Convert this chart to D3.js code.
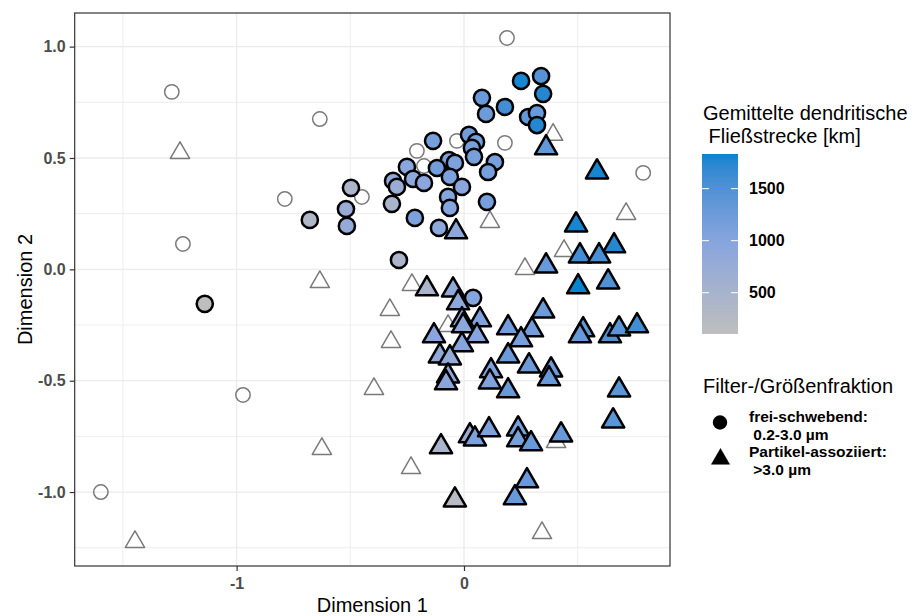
<!DOCTYPE html>
<html>
<head>
<meta charset="utf-8">
<script src="https://cdn.jsdelivr.net/npm/d3@7"></script>
<style>
  body { margin: 0; background: #fff; }
  text { font-family: "Liberation Sans", Arial, Helvetica, sans-serif; }
</style>
</head>
<body>
<svg id="chart" width="917" height="616"></svg>
<script>
// NMDS scores per sample, split by filter fraction.
// Samples without a flow-distance value (drawn as open outlines).
const freeNaDim1 = [0.189, -1.285, -0.634, -1.236, -0.788, -0.972, -1.597, 0.788, -0.449, -0.207, -0.176, -0.031, 0.180];
const freeNaDim2 = [1.039, 0.797, 0.675, 0.114, 0.316, -0.564, -1.000, 0.433, 0.325, 0.532, 0.464, 0.577, 0.568];

const partNaDim1 = [-1.249, -0.634, -0.229, -0.326, -0.321, -0.396, -0.625, -0.233, -1.447, 0.114, 0.392, 0.268, 0.440, 0.713, -0.070, 0.405, 0.343];
const partNaDim2 = [0.523, -0.057, -0.070, -0.182, -0.326, -0.537, -0.806, -0.892, -1.224, 0.213, 0.604, 0.002, 0.083, 0.249, -0.254, -0.775, -1.184];

// Free-living fraction (0.2-3.0 µm)
const freeDim1 = [0.251, 0.339, 0.348, 0.079, 0.097, 0.180, 0.282, 0.321, 0.321, -0.136,
                  0.022, 0.053, 0.035, 0.044, 0.136, 0.106, -0.066, -0.119, -0.040, -0.062,
                  -0.009, -0.070, -0.062, -0.251, -0.312, -0.295, -0.224, -0.176, -0.497, -0.519,
                  -0.515, -0.678, -0.317, -0.216, -0.110, 0.101, -0.286, -1.140, 0.040];
const freeDim2 = [0.846, 0.868, 0.788, 0.770, 0.698, 0.729, 0.684, 0.702, 0.648, 0.577,
                  0.604, 0.572, 0.545, 0.505, 0.482, 0.437, 0.491, 0.455, 0.478, 0.415,
                  0.370, 0.325, 0.276, 0.460, 0.397, 0.370, 0.406, 0.388, 0.366, 0.271,
                  0.195, 0.222, 0.294, 0.231, 0.186, 0.303, 0.042, -0.155, -0.128];
const freeDist = [1800, 1450, 1750, 1300, 1250, 1600, 1350, 1300, 1750, 1150,
                  1200, 1150, 1150, 1150, 1150, 1150, 1100, 1200, 1100, 1100,
                  950, 1000, 1000, 950, 850, 700, 900, 950, 400, 750,
                  800, 350, 450, 1100, 900, 1150, 450, 103, 1000];

// Particle-associated fraction (>3.0 µm)
const partDim1 = [0.361, 0.585, 0.493, -0.035, 0.660, 0.510, 0.594, 0.361, 0.502, 0.634,
                  -0.163, -0.048, -0.026, 0.070, -0.009, -0.004, 0.057, -0.132, 0.348, 0.194,
                  0.299, 0.251, 0.524, 0.510, 0.642, 0.682, 0.761, -0.009, -0.106, -0.062,
                  0.194, 0.286, 0.383, 0.374, 0.119, 0.114, 0.194, -0.070, -0.079, 0.682,
                  0.656, -0.101, 0.026, 0.048, 0.110, 0.238, 0.238, 0.295, 0.427, 0.277,
                  0.224, -0.040];
const partDim2 = [0.545, 0.437, 0.199, 0.168, 0.105, 0.060, 0.060, 0.015, -0.079, -0.057,
                  -0.088, -0.093, -0.151, -0.227, -0.227, -0.254, -0.299, -0.299, -0.187, -0.263,
                  -0.272, -0.317, -0.272, -0.299, -0.299, -0.268, -0.254, -0.339, -0.389, -0.398,
                  -0.389, -0.434, -0.452, -0.492, -0.456, -0.506, -0.546, -0.479, -0.510, -0.542,
                  -0.681, -0.797, -0.748, -0.762, -0.721, -0.717, -0.766, -0.784, -0.744, -0.950,
                  -1.026, -1.036];
const partDist = [1350, 1800, 1800, 900, 1750, 1600, 1550, 1300, 1833, 1500,
                  450, 850, 900, 1050, 950, 900, 1000, 950, 1250, 1200,
                  1200, 1150, 1350, 1300, 1500, 1400, 1600, 1000, 850, 800,
                  1250, 1250, 1250, 1300, 1100, 1050, 1300, 900, 950, 1400,
                  1400, 450, 750, 1100, 1100, 1150, 1150, 1300, 1300, 1300,
                  1300, 200];

const xMajor = [-1, 0];
const xMinor = [-1.5, -0.5, 0.5];
const yMajor = [-1.0, -0.5, 0.0, 0.5, 1.0];
const yMinor = [-1.25, -0.75, -0.25, 0.25, 0.75];
const distTicks = [500, 1000, 1500];
const distRange = [103, 1833];

const legendTitle = ["Gemittelte dendritische", " Fließstrecke [km]"];
const shapeTitle = "Filter-/Größenfraktion";
const shapeLabels = [["frei-schwebend:", " 0.2-3.0 µm"], ["Partikel-assoziiert:", " >3.0 µm"]];

const svg = d3.select("#chart");
const panel = { left: 74.7, right: 670, top: 13, bottom: 566 };

const x = d3.scaleLinear().domain([-1.712, 0.906]).range([panel.left, panel.right]);
const y = d3.scaleLinear().domain([-1.332, 1.151]).range([panel.bottom, panel.top]);
const fill = d3.scaleLinear()
  .domain([distRange[0], 1000, distRange[1]])
  .range(["#bebebe", "#86a5de", "#0784cf"])
  .interpolate(d3.interpolateLab);

const zip = (a, b, c) => a.map((v, i) => ({ d1: v, d2: b[i], dist: c ? c[i] : null }));

// grid
const grid = svg.append("g");
xMinor.forEach(v => grid.append("line").attr("x1", x(v)).attr("x2", x(v))
  .attr("y1", panel.top).attr("y2", panel.bottom).attr("stroke", "#ebebeb").attr("stroke-width", 0.9));
yMinor.forEach(v => grid.append("line").attr("y1", y(v)).attr("y2", y(v))
  .attr("x1", panel.left).attr("x2", panel.right).attr("stroke", "#ebebeb").attr("stroke-width", 0.9));
xMajor.forEach(v => grid.append("line").attr("x1", x(v)).attr("x2", x(v))
  .attr("y1", panel.top).attr("y2", panel.bottom).attr("stroke", "#ebebeb").attr("stroke-width", 1.3));
yMajor.forEach(v => grid.append("line").attr("y1", y(v)).attr("y2", y(v))
  .attr("x1", panel.left).attr("x2", panel.right).attr("stroke", "#ebebeb").attr("stroke-width", 1.3));

const tri = r => `M0,${-r}L${r * 0.866},${r / 2}L${-r * 0.866},${r / 2}Z`;

// open outlines: samples without flow distance
const marks = svg.append("g");
marks.selectAll(".na-c").data(zip(freeNaDim1, freeNaDim2)).join("circle")
  .attr("cx", d => x(d.d1)).attr("cy", d => y(d.d2)).attr("r", 7.2)
  .attr("fill", "none").attr("stroke", "#7a7a7a").attr("stroke-width", 1.5);
marks.selectAll(".na-t").data(zip(partNaDim1, partNaDim2)).join("path")
  .attr("transform", d => `translate(${x(d.d1)},${y(d.d2)})`).attr("d", tri(11.1))
  .attr("fill", "none").attr("stroke", "#7a7a7a").attr("stroke-width", 1.5)
  .attr("stroke-linejoin", "round");

// filled marks coloured by mean dendritic flow distance
marks.selectAll(".f-c").data(zip(freeDim1, freeDim2, freeDist)).join("circle")
  .attr("cx", d => x(d.d1)).attr("cy", d => y(d.d2)).attr("r", 8.1)
  .attr("fill", d => fill(d.dist)).attr("stroke", "#000").attr("stroke-width", 2.5);
marks.selectAll(".f-t").data(zip(partDim1, partDim2, partDist)).join("path")
  .attr("transform", d => `translate(${x(d.d1)},${y(d.d2)})`).attr("d", tri(12.8))
  .attr("fill", d => fill(d.dist)).attr("stroke", "#000").attr("stroke-width", 2.5)
  .attr("stroke-linejoin", "round");

// panel border
svg.append("rect").attr("x", panel.left).attr("y", panel.top)
  .attr("width", panel.right - panel.left).attr("height", panel.bottom - panel.top)
  .attr("fill", "none").attr("stroke", "#333").attr("stroke-width", 1.2);

// axes (plain hyphen for negative numbers)
const xAxis = svg.append("g").attr("transform", `translate(0,${panel.bottom})`)
  .call(d3.axisBottom(x).tickValues(xMajor).tickFormat(d => d.toFixed(0)).tickSize(5).tickPadding(4));
const yAxis = svg.append("g").attr("transform", `translate(${panel.left},0)`)
  .call(d3.axisLeft(y).tickValues(yMajor).tickFormat(d => d.toFixed(1)).tickSize(5).tickPadding(4));
[xAxis, yAxis].forEach(a => {
  a.select(".domain").remove();
  a.selectAll(".tick line").attr("stroke", "#333").attr("stroke-width", 1.2);
  a.selectAll(".tick text").attr("fill", "#4d4d4d").style("font-size", "16px")
    .style("font-weight", "bold").style("font-family", "'Liberation Sans', Arial, sans-serif");
});
xAxis.selectAll(".tick text").attr("dy", "0.9em");

svg.append("text").attr("x", (panel.left + panel.right) / 2).attr("y", 612)
  .attr("text-anchor", "middle").style("font-size", "20px").text("Dimension 1");
svg.append("text").attr("transform", `translate(32,${(panel.top + panel.bottom) / 2}) rotate(-90)`)
  .attr("text-anchor", "middle").style("font-size", "20px").text("Dimension 2");

// colour bar legend
const leg = svg.append("g");
legendTitle.forEach((t, i) => leg.append("text").attr("x", 703).attr("y", 120 + i * 23)
  .style("font-size", "20px").style("white-space", "pre").attr("xml:space", "preserve").text(t));

const bar = { x: 702, w: 36 };
const ly = d3.scaleLinear().domain(distRange).range([334, 154]);
const grad = svg.append("defs").append("linearGradient").attr("id", "distGrad")
  .attr("x1", 0).attr("y1", 1).attr("x2", 0).attr("y2", 0);
d3.range(0, 1.0001, 0.05).forEach(t => grad.append("stop")
  .attr("offset", t).attr("stop-color", fill(distRange[0] + t * (distRange[1] - distRange[0]))));
leg.append("rect").attr("x", bar.x).attr("y", ly(distRange[1])).attr("width", bar.w)
  .attr("height", ly(distRange[0]) - ly(distRange[1])).attr("fill", "url(#distGrad)");
distTicks.forEach(v => {
  leg.append("line").attr("x1", bar.x).attr("x2", bar.x + 7).attr("y1", ly(v)).attr("y2", ly(v))
    .attr("stroke", "#fff").attr("stroke-width", 1);
  leg.append("line").attr("x1", bar.x + bar.w - 7).attr("x2", bar.x + bar.w).attr("y1", ly(v)).attr("y2", ly(v))
    .attr("stroke", "#fff").attr("stroke-width", 1);
  leg.append("text").attr("x", 749).attr("y", ly(v)).attr("dy", "0.36em")
    .style("font-size", "16px").style("font-weight", "bold").text(v);
});

// shape legend
leg.append("text").attr("x", 703).attr("y", 393).style("font-size", "20px").text(shapeTitle);
leg.append("circle").attr("cx", 720).attr("cy", 422.5).attr("r", 7.2).attr("fill", "#000");
leg.append("path").attr("transform", "translate(720.5,459)").attr("d", tri(10.5)).attr("fill", "#000")
  .attr("stroke", "#000").attr("stroke-width", 0.5).attr("stroke-linejoin", "round");
const labelBase = [421.5, 457];
shapeLabels.forEach((lines, k) => lines.forEach((t, i) => leg.append("text")
  .attr("x", 749).attr("y", labelBase[k] + i * 18).attr("xml:space", "preserve")
  .style("white-space", "pre").style("font-size", "15.5px").style("font-weight", "bold").text(t)));
</script>
</body>
</html>
